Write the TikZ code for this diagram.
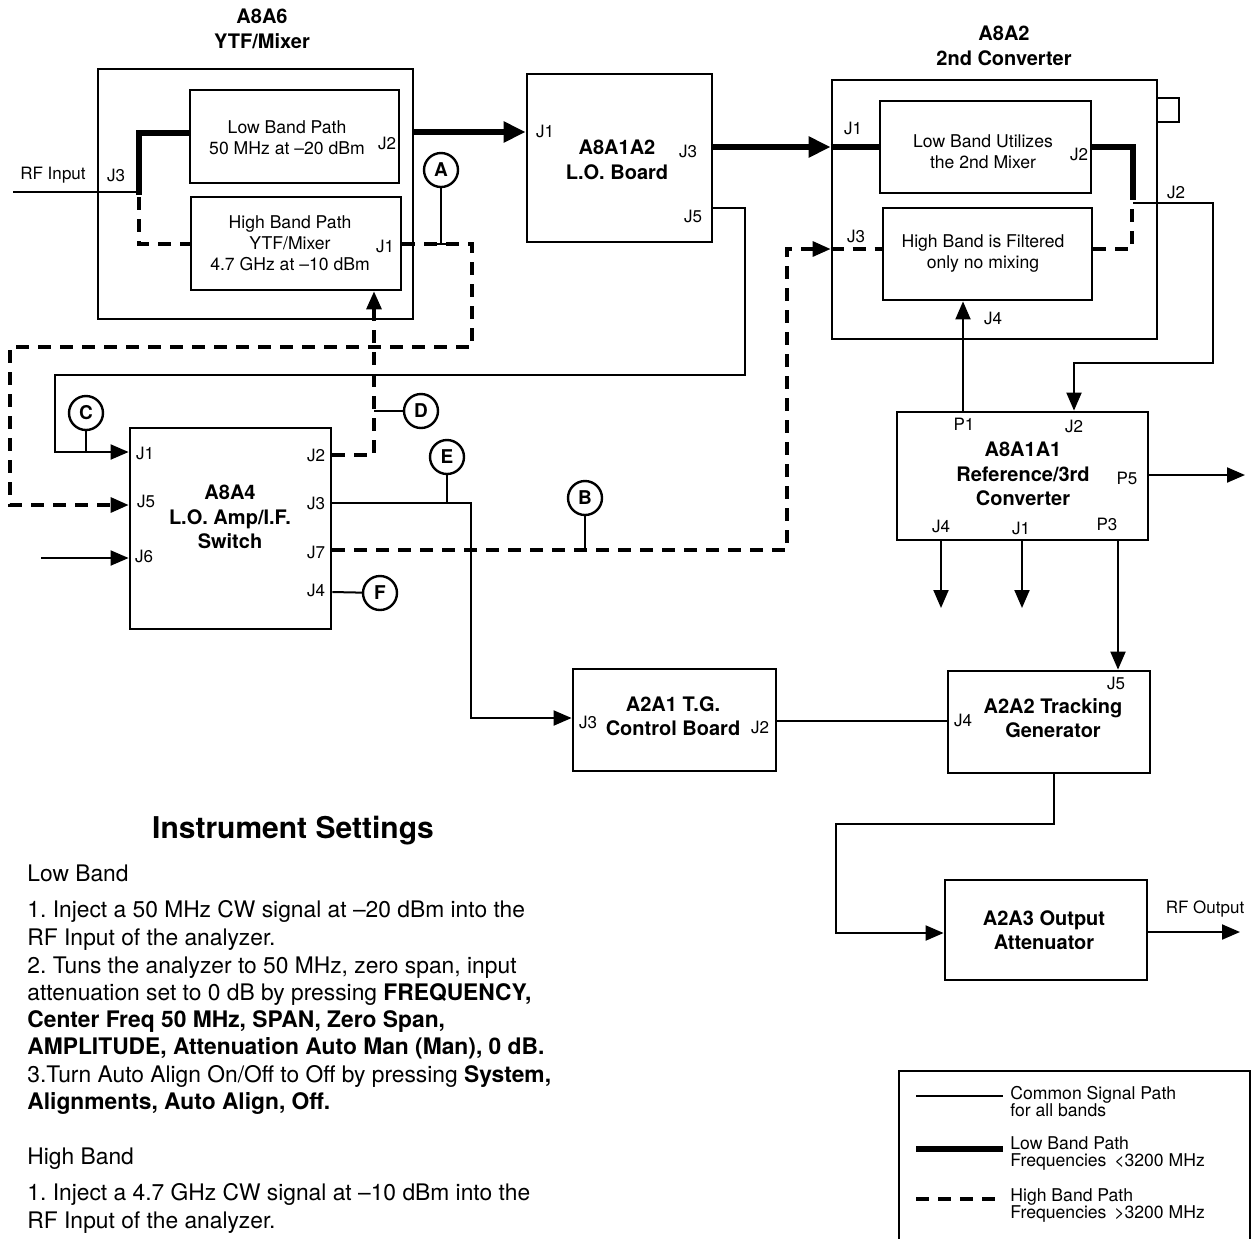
\documentclass[tikz,border=0pt]{standalone}
\usepackage{fontspec}
\setmainfont{TeX Gyre Heros}
\usepackage{tikz}
\usetikzlibrary{arrows.meta}

\newcommand{\mns}{\textendash}
\frenchspacing

\begin{document}
\begin{tikzpicture}[x=0.5pt,y=-0.5pt,
  box/.style={draw,line width=1.4pt,inner sep=0pt},
  ttl/.style={font=\fontsize{10}{12.2}\selectfont\bfseries,align=center},
  txt/.style={font=\fontsize{8.8}{10.5}\selectfont,align=center},
  port/.style={font=\fontsize{8.5}{10}\selectfont,inner sep=0pt},
  circ/.style={draw,circle,line width=1.2pt,minimum size=17pt,inner sep=0pt,font=\fontsize{9.5}{10}\selectfont\bfseries},
  sig/.style={line width=1pt},
  lowb/.style={line width=2.8pt},
  highb/.style={line width=1.6pt,dash pattern=on 6.5pt off 4.5pt},
  tip/.style={-{Triangle[length=9pt,width=7.5pt]}},
  bigtip/.style={-{Triangle[length=11pt,width=10pt]}},
  body/.style={font=\fontsize{11.4}{13.75}\selectfont,anchor=base west,inner sep=0pt},
  leg/.style={font=\fontsize{8.8}{8.6}\selectfont,align=left,anchor=west,inner sep=0pt}]
\useasboundingbox (0,0) rectangle (1252,1238);

% boxes
\node[box,minimum width=157.5pt,minimum height=125pt] (ytf) at (255.5,194) {};
\node[box,minimum width=104.5pt,minimum height=46.5pt] (lbp) at (294.5,136.5) {};
\node[box,minimum width=105pt,minimum height=46.5pt] (hbp) at (296,243.5) {};
\node[box,minimum width=92.5pt,minimum height=84pt] (lob) at (619.5,158) {};
\node[box,minimum width=162.5pt,minimum height=129.5pt] (conv) at (994.5,209.5) {};
\node[box,minimum width=105.5pt,minimum height=46pt] (lbu) at (985.5,147) {};
\node[box,minimum width=104.5pt,minimum height=46pt] (hbf) at (987.5,254) {};
\node[box,minimum width=100.5pt,minimum height=100.5pt] (amp) at (230.5,528.5) {};
\node[box,minimum width=125.5pt,minimum height=64pt] (ref) at (1022.5,476) {};
\node[box,minimum width=101.5pt,minimum height=51pt] (tgc) at (674.5,720) {};
\node[box,minimum width=101pt,minimum height=51pt] (trk) at (1049,722) {};
\node[box,minimum width=101pt,minimum height=50pt] (att) at (1046,930) {};
\draw[line width=1.4pt] (conv.east |- 0,98) -- (1179,98) -- (1179,122) -- (conv.east |- 0,122);

% box texts
\node[ttl] (ytft) at (262,29) {A8A6\\YTF/Mixer};
\node[txt] (lbpt) at (287,137.5) {Low Band Path\\50 MHz at \textendash20 dBm};
\node[txt] (hbpt) at (290,243) {High Band Path\\YTF/Mixer\\4.7 GHz at \textendash10 dBm};
\node[ttl] (lobt) at (617,160) {A8A1A2\\L.O. Board};
\node[ttl] (convt) at (1004,46) {A8A2\\2nd Converter};
\node[txt] (lbut) at (983,152) {Low Band Utilizes\\the 2nd Mixer};
\node[txt] (hbft) at (983,253) {High Band is Filtered\\only no mixing};
\node[ttl] (ampt) at (230,517) {A8A4\\L.O. Amp/I.F.\\Switch};
\node[ttl] (reft) at (1023,474) {A8A1A1\\Reference/3rd\\Converter};
\node[ttl] (tgct) at (673,716) {A2A1 T.G.\\Control Board};
\node[ttl] (trkt) at (1053,718) {A2A2 Tracking\\Generator};
\node[ttl] (attt) at (1044,930) {A2A3 Output\\Attenuator};

% ports
\node[port] at (53,175) {RF Input};
\node[port] at (116,175) {J3};
\node[port] at (387,143) {J2};
\node[port] at (385,246) {J1};
\node[port] at (545,131) {J1};
\node[port] at (688,151) {J3};
\node[port] at (693,216) {J5};
\node[port] at (853,128) {J1};
\node[port] at (1079,154) {J2};
\node[port] at (856,236) {J3};
\node[port] at (993,318) {J4};
\node[port] at (1176,192) {J2};
\node[port] at (145,453) {J1};
\node[port] at (146,501) {J5};
\node[port] at (144,556) {J6};
\node[port] at (316,455) {J2};
\node[port] at (316,503) {J3};
\node[port] at (316,552) {J7};
\node[port] at (316,590) {J4};
\node[port] at (964,424) {P1};
\node[port] at (1074,426) {J2};
\node[port] at (1127,478) {P5};
\node[port] at (941,526) {J4};
\node[port] at (1021,528) {J1};
\node[port] at (1107,524) {P3};
\node[port] at (588,722) {J3};
\node[port] at (760,727) {J2};
\node[port] at (963,720) {J4};
\node[port] at (1116,683) {J5};
\node[port] at (1205,909) {RF Output};

% test points
\node[circ] (cA) at (441,170) {A};
\node[circ] (cB) at (585,498) {B};
\node[circ] (cC) at (86,413) {C};
\node[circ] (cD) at (421,411) {D};
\node[circ] (cE) at (447,457) {E};
\node[circ] (cF) at (380,593) {F};

% free ends
\coordinate (rfin) at (13,192);
\coordinate (jsix) at (41,558);
\coordinate (pfive) at (1245,475);
\coordinate (rfout) at (1240,932);

% YTF/mixer paths
\draw[sig] (rfin) -- (139,192);
\draw[lowb] (139,195) -- (139,133) -- (lbp.west |- 0,133);
\draw[highb] (139,197) -- (139,244) -- (hbp.west |- 0,244);
\draw[lowb,bigtip] (ytf.east |- 0,132) -- (lob.west |- 0,132);
\draw[highb,tip] (hbp.east |- 0,244) -- (472,244) -- (472,347) -- (10,347) -- (10,505) -- (amp.west |- 0,505);
\draw[sig] (cA) -- (cA |- 0,244);
\draw[sig] (cA |- 0,244) ++(-8,0) -- ++(16,0);

% 2nd converter
\draw[lowb,bigtip] (lob.east |- 0,147) -- (conv.west |- 0,147);
\draw[lowb] (conv.west |- 0,147) -- (lbu.west |- 0,147);
\draw[lowb] (lbu.east |- 0,147) -- (1133,147) -- (1133,200);
\draw[highb] (hbf.east |- 0,249) -- (1132,249) -- (1132,203);
\draw[sig,tip] (1133,203) -- (1213,203) -- (1213,363) -- (1074,363) -- (ref.north -| 1074,0);
\draw[sig,tip] (ref.north -| 963,0) -- (hbf.south -| 963,0);

% L.O. amp
\draw[sig,tip] (lob.east |- 0,208) -- (745,208) -- (745,375) -- (55,375) -- (55,452) -- (amp.west |- 0,452);
\draw[sig] (cC) -- (cC |- 0,452);
\draw[highb,tip] (amp.east |- 0,455) -- (374,455) -- (hbp.south -| 374,0);
\draw[sig] (cD) -- (374,411);
\draw[sig,tip] (jsix) -- (amp.west |- 0,558);
\draw[sig,tip] (amp.east |- 0,503) -- (471,503) -- (471,718) -- (tgc.west |- 0,718);
\draw[sig] (cE) -- (cE |- 0,503);
\draw[highb,tip] (amp.east |- 0,550) -- (787,550) -- (787,249) -- (conv.west |- 0,249);
\draw[highb] (conv.west |- 0,249) -- (hbf.west |- 0,249);
\draw[sig] (cB) -- (cB |- 0,550);
\draw[sig] (amp.east |- 0,592) -- (cF);

% reference and tracking generator
\draw[sig,tip] (ref.east |- 0,475) -- (pfive);
\draw[sig,tip] (ref.south -| 941,0) -- (941,608);
\draw[sig,tip] (ref.south -| 1022,0) -- (1022,608);
\draw[sig,tip] (ref.south -| 1118,0) -- (trk.north -| 1118,0);
\draw[sig] (tgc.east |- 0,721) -- (trk.west |- 0,721);
\draw[sig,tip] (trk.south -| 1054,0) -- (1054,824) -- (836,824) -- (836,933) -- (att.west |- 0,933);
\draw[sig,tip] (att.east |- 0,932) -- (rfout);

% settings
\node[font=\fontsize{15}{17}\selectfont\bfseries] (sett) at (293,831) {Instrument Settings};
\foreach \yy/\tt in {881/{Low Band},
  917/{1. Inject a 50 MHz CW signal at \mns20 dBm into the},
  945/{RF Input of the analyzer.},
  973/{2. Tuns the analyzer to 50 MHz, zero span, input},
  1000/{attenuation set to 0 dB by pressing \textbf{FREQUENCY,}},
  1027/{\textbf{Center Freq 50 MHz, SPAN, Zero Span,}},
  1054/{\textbf{AMPLITUDE, Attenuation Auto Man (Man), 0 dB.}},
  1082/{3.Turn Auto Align On/Off to Off by pressing \textbf{System,}},
  1109/{\textbf{Alignments, Auto Align, Off.}},
  1164/{High Band},
  1200/{1. Inject a 4.7 GHz CW signal at \mns10 dBm into the},
  1228/{RF Input of the analyzer.}}
  \node[body] at (27,\yy) {\tt};

% legend
\draw[line width=1.4pt] (899,1240) -- (899,1071) -- (1250,1071) -- (1250,1240);
\draw[line width=0.8pt] (916,1096) -- (1003,1096);
\draw[lowb] (916,1149) -- (1003,1149);
\draw[highb] (916,1199) -- (1003,1199);
\node[leg] (lg1) at (1010,1101.5) {Common Signal Path\\for all bands};
\node[leg] (lg2) at (1010,1153.5) {Low Band Path\\Frequencies \,<3200 MHz};
\node[leg] (lg3) at (1010,1205.5) {High Band Path\\Frequencies \,>3200 MHz};
\end{tikzpicture}
\end{document}
